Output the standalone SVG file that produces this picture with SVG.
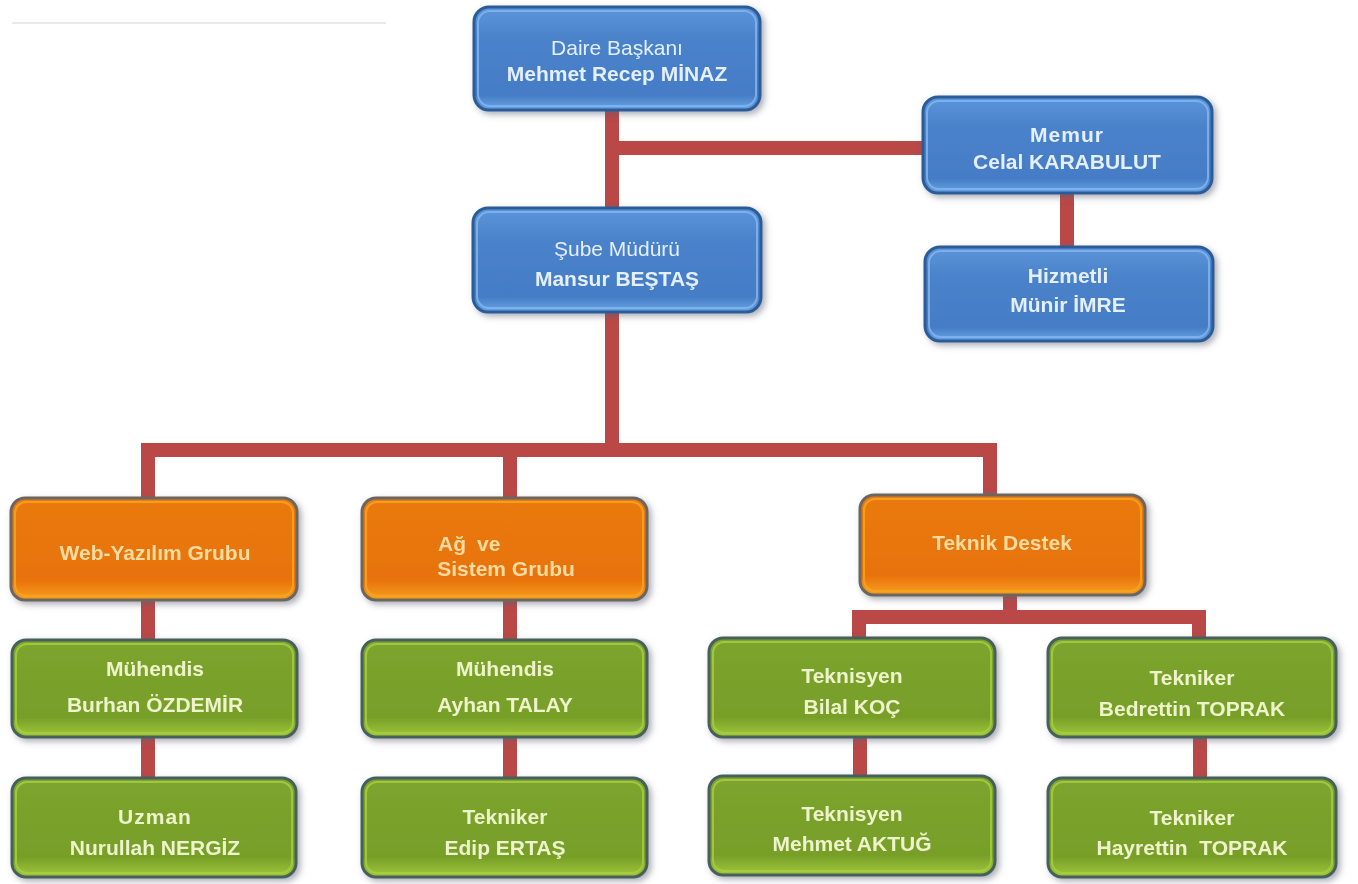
<svg xmlns="http://www.w3.org/2000/svg" width="1358" height="884" viewBox="0 0 1358 884">
<style>
.t{font-family:"Liberation Sans",Arial,sans-serif;font-size:21px;font-weight:bold;text-anchor:middle}
.r{font-weight:normal}
.bt{fill:#e4efff}
.ot{fill:#fbdca0}
.gt{fill:#eff3cc}
.blue{fill:url(#gb);stroke:#2c5d98;stroke-width:3}
.orange{fill:url(#go);stroke:#6c6660;stroke-width:3}
.green{fill:url(#gg);stroke:#46605c;stroke-width:3}
.hb{fill:none;stroke:#86b8f0;stroke-width:2;opacity:.8}
.ho{fill:none;stroke:#f8a81e;stroke-width:2;opacity:.8}
.hg{fill:none;stroke:#a9cf40;stroke-width:2;opacity:.8}
.c{stroke:#b94846;stroke-width:14;fill:none;stroke-linecap:butt;stroke-linejoin:miter}
</style>
<defs>
<linearGradient id="gb" x1="0" y1="0" x2="0" y2="1">
<stop offset="0" stop-color="#5c95da"/>
<stop offset="0.3" stop-color="#4b83cb"/>
<stop offset="0.85" stop-color="#447cc5"/>
<stop offset="1" stop-color="#6aa4e4"/>
</linearGradient>
<linearGradient id="go" x1="0" y1="0" x2="0" y2="1">
<stop offset="0" stop-color="#ea7a12"/>
<stop offset="0.8" stop-color="#e8720a"/>
<stop offset="1" stop-color="#f6a020"/>
</linearGradient>
<linearGradient id="gg" x1="0" y1="0" x2="0" y2="1">
<stop offset="0" stop-color="#7ca42e"/>
<stop offset="0.8" stop-color="#779f28"/>
<stop offset="1" stop-color="#a2c83a"/>
</linearGradient>
<filter id="sh" x="-10%" y="-10%" width="125%" height="130%">
<feDropShadow dx="3" dy="3" stdDeviation="3" flood-color="#5a6070" flood-opacity="0.5"/>
</filter>
</defs>
<rect width="1358" height="884" fill="#ffffff"/>
<g id="faint" stroke="#e9e9e9" stroke-width="2">
<line x1="12" y1="23" x2="386" y2="23"/>
</g>
<g id="connectors">
<path class="c" d="M612 110 V208"/>
<path class="c" d="M612 148 H923"/>
<path class="c" d="M1067 193 V247"/>
<path class="c" d="M612 312 V450"/>
<path class="c" d="M148 498 V450 H990 V495"/>
<path class="c" d="M510 450 V498"/>
<path class="c" d="M148 600 V640"/>
<path class="c" d="M148 737 V778"/>
<path class="c" d="M510 600 V640"/>
<path class="c" d="M510 737 V778"/>
<path class="c" d="M1010 595 V617"/>
<path class="c" d="M859 638 V617 H1199 V638"/>
<path class="c" d="M860 737 V776"/>
<path class="c" d="M1200 737 V778"/>
</g>
<g id="n-daire" filter="url(#sh)">
<rect class="blue" x="474" y="7" width="286" height="103" rx="15"/>
<rect class="hb" x="478" y="11" width="278" height="95" rx="12"/>
<text class="t bt r" x="617" y="55">Daire Başkanı</text>
<text class="t bt" x="617" y="81">Mehmet Recep MİNAZ</text>
</g>
<g id="n-memur" filter="url(#sh)">
<rect class="blue" x="923" y="97" width="289" height="96" rx="15"/>
<rect class="hb" x="927" y="101" width="281" height="88" rx="12"/>
<text class="t bt" x="1067" y="142" letter-spacing="1">Memur</text>
<text class="t bt" x="1067" y="169">Celal KARABULUT</text>
</g>
<g id="n-hizmetli" filter="url(#sh)">
<rect class="blue" x="925" y="247" width="288" height="94" rx="15"/>
<rect class="hb" x="929" y="251" width="280" height="86" rx="12"/>
<text class="t bt" x="1068" y="283">Hizmetli</text>
<text class="t bt" x="1068" y="312">Münir İMRE</text>
</g>
<g id="n-sube" filter="url(#sh)">
<rect class="blue" x="473" y="208" width="288" height="104" rx="15"/>
<rect class="hb" x="477" y="212" width="280" height="96" rx="12"/>
<text class="t bt r" x="617" y="256">Şube Müdürü</text>
<text class="t bt" x="617" y="286">Mansur BEŞTAŞ</text>
</g>
<g id="n-web" filter="url(#sh)">
<rect class="orange" x="11" y="498" width="286" height="102" rx="14"/>
<rect class="ho" x="15" y="502" width="278" height="94" rx="11"/>
<text class="t ot" x="155" y="560">Web-Yazılım Grubu</text>
</g>
<g id="n-ag" filter="url(#sh)">
<rect class="orange" x="362" y="498" width="285" height="102" rx="14"/>
<rect class="ho" x="366" y="502" width="277" height="94" rx="11"/>
<text class="t ot" y="551" style="text-anchor:start"><tspan x="438">Ağ</tspan><tspan x="477">ve</tspan></text>
<text class="t ot" x="506" y="576">Sistem Grubu</text>
</g>
<g id="n-teknik" filter="url(#sh)">
<rect class="orange" x="860" y="495" width="285" height="100" rx="14"/>
<rect class="ho" x="864" y="499" width="277" height="92" rx="11"/>
<text class="t ot" x="1002" y="550">Teknik Destek</text>
</g>
<g id="n-burhan" filter="url(#sh)">
<rect class="green" x="12" y="640" width="285" height="97" rx="14"/>
<rect class="hg" x="16" y="644" width="277" height="89" rx="11"/>
<text class="t gt" x="155" y="676">Mühendis</text>
<text class="t gt" x="155" y="712">Burhan ÖZDEMİR</text>
</g>
<g id="n-ayhan" filter="url(#sh)">
<rect class="green" x="362" y="640" width="285" height="97" rx="14"/>
<rect class="hg" x="366" y="644" width="277" height="89" rx="11"/>
<text class="t gt" x="505" y="676">Mühendis</text>
<text class="t gt" x="505" y="712">Ayhan TALAY</text>
</g>
<g id="n-bilal" filter="url(#sh)">
<rect class="green" x="709" y="638" width="286" height="99" rx="14"/>
<rect class="hg" x="713" y="642" width="278" height="91" rx="11"/>
<text class="t gt" x="852" y="683">Teknisyen</text>
<text class="t gt" x="852" y="714">Bilal KOÇ</text>
</g>
<g id="n-bedrettin" filter="url(#sh)">
<rect class="green" x="1048" y="638" width="288" height="99" rx="14"/>
<rect class="hg" x="1052" y="642" width="280" height="91" rx="11"/>
<text class="t gt" x="1192" y="685">Tekniker</text>
<text class="t gt" x="1192" y="716">Bedrettin TOPRAK</text>
</g>
<g id="n-nurullah" filter="url(#sh)">
<rect class="green" x="12" y="778" width="284" height="99" rx="14"/>
<rect class="hg" x="16" y="782" width="276" height="91" rx="11"/>
<text class="t gt" x="155" y="824" letter-spacing="1">Uzman</text>
<text class="t gt" x="155" y="855">Nurullah NERGİZ</text>
</g>
<g id="n-edip" filter="url(#sh)">
<rect class="green" x="362" y="778" width="285" height="99" rx="14"/>
<rect class="hg" x="366" y="782" width="277" height="91" rx="11"/>
<text class="t gt" x="505" y="824">Tekniker</text>
<text class="t gt" x="505" y="855">Edip ERTAŞ</text>
</g>
<g id="n-mehmet" filter="url(#sh)">
<rect class="green" x="709" y="776" width="286" height="99" rx="14"/>
<rect class="hg" x="713" y="780" width="278" height="91" rx="11"/>
<text class="t gt" x="852" y="821">Teknisyen</text>
<text class="t gt" x="852" y="851">Mehmet AKTUĞ</text>
</g>
<g id="n-hayrettin" filter="url(#sh)">
<rect class="green" x="1048" y="778" width="288" height="99" rx="14"/>
<rect class="hg" x="1052" y="782" width="280" height="91" rx="11"/>
<text class="t gt" x="1192" y="825">Tekniker</text>
<text class="t gt" x="1192" y="855">Hayrettin&#160; TOPRAK</text>
</g>
</svg>
